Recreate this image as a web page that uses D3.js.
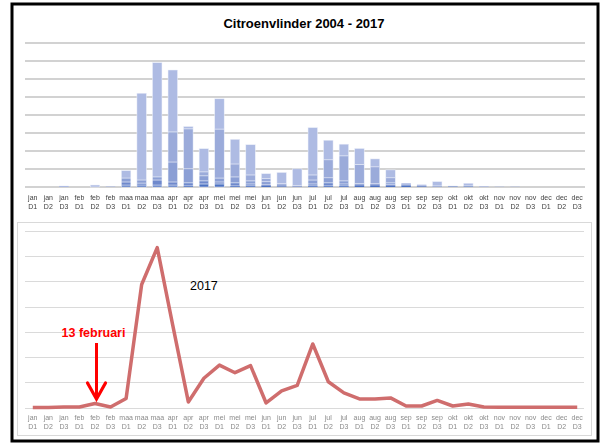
<!DOCTYPE html>
<meta charset="utf-8">

<head>
    <title>Citroenvlinder 2004 - 2017</title>
</head>

<style>
    body {
        margin: 0;
        background-color: #ffffff;
        font-family: "Liberation Sans", Arial;
    }

    .topgrid line {
        stroke: #c3c3c3;
        stroke-width: 1.5px;
    }

    .botgrid line {
        stroke: #dadada;
        stroke-width: 1px;
        shape-rendering: crispEdges;
    }

    .labels {
        opacity: 0.999;
        will-change: transform;
    }
</style>

<body>
    <svg width="605" height="444"></svg>
</body>

<script src="https://d3js.org/d3.v7.min.js"></script>

<script>
    // categories: 3 decades per month
    var months = ["jan", "feb", "maa", "apr", "mei", "jun", "jul", "aug", "sep", "okt", "nov", "dec"];
    var decades = ["D1", "D2", "D3"];
    var periods = [];
    months.forEach(m => decades.forEach(d => periods.push(m + " " + d)));

    // stacked counts 2004 - 2017 (darkest layer at bottom)
    var layer1 = [0, 0, 0, 0, 0, 0, 1.1, 1.1, 1.1, 1.1, 0.6, 1.7, 1.7, 0.6, 0.6, 0.6, 0.3, 0, 0.6, 0.6, 0.6, 0.6, 0.6, 0.6, 0.8, 0.3, 0, 0.3, 0.3, 0, 0, 0, 0, 0, 0, 0];
    var layer2 = [0, 0, 0, 0, 0, 0, 1.7, 1.1, 2.8, 1.7, 1.7, 1.7, 1.1, 1.7, 1.1, 0.6, 0.3, 0.3, 1.1, 1.7, 1.1, 0.6, 0.6, 0.6, 0.6, 0.3, 0.3, 0, 0.3, 0, 0, 0, 0, 0, 0, 0];
    var layer3 = [0, 0, 0, 0, 0, 0, 2.2, 1.7, 1.7, 11.1, 7.8, 2.8, 2.2, 3.3, 1.7, 1.7, 0.6, 0.3, 2.2, 2.8, 1.7, 0.7, 0.6, 1.1, 0, 0, 0.3, 0, 0, 0, 0, 0, 0, 0, 0, 0];
    var layer4 = [0, 0, 0, 0, 0, 0, 0, 0, 0, 16.7, 22.2, 2.2, 27.2, 7.2, 3.3, 1.7, 0.6, 0.3, 2.8, 10, 13.9, 10.6, 9.4, 2.8, 0, 0, 0, 0, 0, 0, 0, 0, 0, 0, 0, 0];
    var layer5 = [0, 0, 0.6, 0, 1.1, 0.3, 4.1, 48.2, 63.5, 34.4, 1.3, 12.9, 16.8, 13.7, 16.8, 2.8, 6.3, 9.2, 26.3, 10.9, 6.5, 8.9, 4.4, 4.4, 0.7, 0.7, 2.4, 0.3, 1.5, 0.4, 0.2, 0.2, 0, 0, 0, 0];
    var layerColors = ["#4d72c2", "#6f89cc", "#8b9fd5", "#9babda", "#aebbe3"];

    // 2017 alone
    var counts2017 = [0, 0, 0.1, 0.1, 0.8, 0.1, 1.8, 24.4, 31.7, 16.3, 1.1, 5.8, 8.4, 6.9, 8.3, 0.9, 3.3, 4.4, 12.6, 5.1, 2.9, 1.7, 1.7, 1.9, 0.3, 0.3, 1.4, 0.3, 0.7, 0.1, 0.05, 0.05, 0.05, 0.05, 0.05, 0.05];

    var topTicks = d3.range(0, 81, 10);
    var botTicks = d3.range(0, 36, 5);

    var svg = d3.select("svg");

    // outer frame
    svg.append("rect")
        .attr("x", 12).attr("y", 4)
        .attr("width", 586).attr("height", 437)
        .attr("fill", "#fff")
        .attr("stroke", "#000")
        .attr("stroke-width", 3);

    // lower panel frame
    svg.append("rect")
        .attr("x", 17.5).attr("y", 222.5)
        .attr("width", 574).attr("height", 213)
        .attr("fill", "#fff")
        .attr("stroke", "#d9d9d9")
        .attr("stroke-width", 1);

    var x = d3.scaleBand()
        .domain(periods)
        .range([25, 585]);

    // ---------- top: stacked bars ----------
    var y = d3.scaleLinear().domain([0, 80]).range([187, 43]);

    svg.append("text")
        .attr("x", 304).attr("y", 28)
        .attr("text-anchor", "middle")
        .attr("font-weight", "bold")
        .attr("font-size", "13px")
        .text("Citroenvlinder 2004 - 2017");

    svg.append("g")
        .attr("class", "topgrid")
        .selectAll("line")
        .data(topTicks)
        .enter()
        .append("line")
        .attr("x1", 25).attr("x2", 585)
        .attr("y1", d => y(d)).attr("y2", d => y(d));

    var table = periods.map((p, i) => ({
        period: p,
        l1: layer1[i], l2: layer2[i], l3: layer3[i], l4: layer4[i], l5: layer5[i]
    }));
    var keys = ["l1", "l2", "l3", "l4", "l5"];
    var series = d3.stack().keys(keys)(table);

    var barPad = 0.39;
    var bw = x.bandwidth() * (1 - barPad);

    svg.append("g")
        .selectAll("g")
        .data(series)
        .enter()
        .append("g")
        .attr("fill", (d, i) => layerColors[i])
        .selectAll("rect")
        .data(d => d)
        .enter()
        .append("rect")
        .attr("x", d => x(d.data.period) + (x.bandwidth() - bw) / 2)
        .attr("width", bw)
        .attr("y", d => y(d[1]))
        .attr("height", d => y(d[0]) - y(d[1]))
        .attr("stroke", "#eef1fa")
        .attr("stroke-width", d => (y(d[0]) - y(d[1])) > 1.5 ? 0.5 : 0);

    function twoLineLabels(g, top, color) {
        g.attr("class", "labels")
            .selectAll("text")
            .data(periods)
            .enter()
            .append("text")
            .attr("x", d => x(d) + x.bandwidth() / 2)
            .attr("y", top)
            .attr("text-anchor", "middle")
            .attr("fill", color)
            .attr("font-size", "7px")
            .each(function (d) {
                var parts = d.split(" ");
                d3.select(this).append("tspan")
                    .attr("x", x(d) + x.bandwidth() / 2)
                    .text(parts[0]);
                d3.select(this).append("tspan")
                    .attr("x", x(d) + x.bandwidth() / 2)
                    .attr("dy", 9)
                    .text(parts[1]);
            });
    }

    twoLineLabels(svg.append("g"), 199.5, "#404040");

    // ---------- bottom: 2017 line ----------
    var y2 = d3.scaleLinear().domain([0, 35]).range([407.5, 231]);

    svg.append("g")
        .attr("class", "botgrid")
        .selectAll("line")
        .data(botTicks)
        .enter()
        .append("line")
        .attr("x1", 25).attr("x2", 584)
        .attr("y1", d => Math.round(y2(d)) + 0.5).attr("y2", d => Math.round(y2(d)) + 0.5);

    var line = d3.line()
        .x((d, i) => x(periods[i]) + x.bandwidth() / 2)
        .y(d => y2(d));

    svg.append("path")
        .datum(counts2017)
        .attr("d", line)
        .attr("fill", "none")
        .attr("stroke", "#cf6d6d")
        .attr("stroke-width", 3.5)
        .attr("stroke-linejoin", "round");

    twoLineLabels(svg.append("g"), 420, "#8a8a8a");

    svg.append("text")
        .attr("x", 190).attr("y", 290)
        .attr("font-size", "12.5px")
        .attr("fill", "#000")
        .text("2017");

    // annotation: 13 februari
    var ax = x("feb D2") + x.bandwidth() / 2 + 1.5;
    svg.append("text")
        .attr("x", ax - 3).attr("y", 337)
        .attr("text-anchor", "middle")
        .attr("font-weight", "bold")
        .attr("font-size", "12.5px")
        .attr("fill", "#ff0000")
        .text("13 februari");

    svg.append("line")
        .attr("x1", ax).attr("x2", ax)
        .attr("y1", 343).attr("y2", 398)
        .attr("stroke", "#ff0000")
        .attr("stroke-width", 3);

    svg.append("path")
        .attr("d", `M${ax - 9},${383} L${ax},${399} L${ax + 9},${383}`)
        .attr("fill", "none")
        .attr("stroke", "#ff0000")
        .attr("stroke-width", 3.2)
        .attr("stroke-linecap", "round");
</script>
